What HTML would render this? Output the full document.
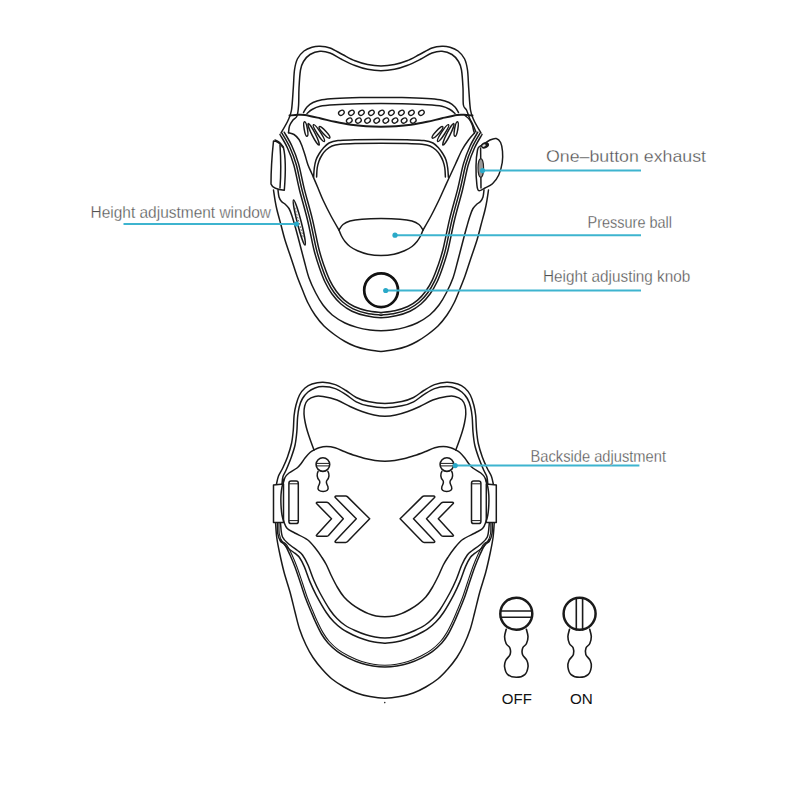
<!DOCTYPE html>
<html><head><meta charset="utf-8">
<style>
html,body{margin:0;padding:0;background:#fff;width:800px;height:800px;overflow:hidden}
svg{position:absolute;left:0;top:0}
.l{fill:none;stroke:#1a1a1a;stroke-width:1.5;stroke-linecap:round;stroke-linejoin:round}
.t{font-family:"Liberation Sans",sans-serif;fill:#505050;stroke:#fff;stroke-width:0.3}
.c{stroke:#3db4cf;stroke-width:2;fill:none}
.d{fill:#2aa9c8}
</style></head><body>
<svg width="800" height="800" viewBox="0 0 800 800">
<g class="l">
<path d="M281.00 133.00 C282.17 130.92 286.25 124.33 288.00 120.50 C289.75 116.67 290.62 115.42 291.50 110.00 C292.38 104.58 292.80 94.67 293.30 88.00 C293.80 81.33 293.80 74.88 294.50 70.00 C295.20 65.12 295.92 61.92 297.50 58.75 C299.08 55.58 301.58 52.92 304.00 51.00 C306.42 49.08 309.33 48.00 312.00 47.20 C314.67 46.40 317.00 46.07 320.00 46.20 C323.00 46.33 326.25 46.62 330.00 48.00 C333.75 49.38 338.33 52.37 342.50 54.50 C346.67 56.63 350.83 59.13 355.00 60.80 C359.17 62.47 363.17 63.65 367.50 64.50 C371.83 65.35 376.50 65.90 381.00 65.90 C385.50 65.90 390.17 65.35 394.50 64.50 C398.83 63.65 402.83 62.47 407.00 60.80 C411.17 59.13 415.33 56.63 419.50 54.50 C423.67 52.37 428.25 49.38 432.00 48.00 C435.75 46.62 439.00 46.33 442.00 46.20 C445.00 46.07 447.33 46.40 450.00 47.20 C452.67 48.00 455.58 49.08 458.00 51.00 C460.42 52.92 462.92 55.58 464.50 58.75 C466.08 61.92 466.80 65.12 467.50 70.00 C468.20 74.88 468.20 81.33 468.70 88.00 C469.20 94.67 469.62 104.58 470.50 110.00 C471.38 115.42 472.25 116.67 474.00 120.50 C475.75 124.33 479.83 130.92 481.00 133.00"/>
<path d="M288.50 132.80 C288.67 131.67 288.75 128.13 289.50 126.00 C290.25 123.87 291.75 121.67 293.00 120.00 C294.25 118.33 296.07 118.50 297.00 116.00 C297.93 113.50 298.27 109.67 298.60 105.00 C298.93 100.33 298.68 93.83 299.00 88.00 C299.32 82.17 299.75 74.42 300.50 70.00 C301.25 65.58 301.92 64.08 303.50 61.50 C305.08 58.92 307.25 56.22 310.00 54.50 C312.75 52.78 316.67 51.45 320.00 51.20 C323.33 50.95 326.33 51.62 330.00 53.00 C333.67 54.38 337.83 57.42 342.00 59.50 C346.17 61.58 350.75 63.87 355.00 65.50 C359.25 67.13 363.17 68.43 367.50 69.30 C371.83 70.17 376.50 70.70 381.00 70.70 C385.50 70.70 390.17 70.17 394.50 69.30 C398.83 68.43 402.75 67.13 407.00 65.50 C411.25 63.87 415.83 61.58 420.00 59.50 C424.17 57.42 428.33 54.38 432.00 53.00 C435.67 51.62 438.67 50.95 442.00 51.20 C445.33 51.45 449.25 52.78 452.00 54.50 C454.75 56.22 456.92 58.92 458.50 61.50 C460.08 64.08 460.75 65.58 461.50 70.00 C462.25 74.42 462.68 82.17 463.00 88.00 C463.32 93.83 462.82 101.33 463.40 105.00 C463.98 108.67 465.48 107.83 466.50 110.00 C467.52 112.17 468.42 115.50 469.50 118.00 C470.58 120.50 471.92 122.67 473.00 125.00 C474.08 127.33 475.50 130.83 476.00 132.00"/>
<path d="M303.50 112.50 C304.08 111.58 305.42 108.67 307.00 107.00 C308.58 105.33 310.50 103.70 313.00 102.50 C315.50 101.30 318.33 100.47 322.00 99.80 C325.67 99.13 328.67 98.87 335.00 98.50 C341.33 98.13 352.33 97.78 360.00 97.60 C367.67 97.42 374.00 97.40 381.00 97.40 C388.00 97.40 394.33 97.42 402.00 97.60 C409.67 97.78 420.67 98.13 427.00 98.50 C433.33 98.87 436.33 99.13 440.00 99.80 C443.67 100.47 446.50 101.30 449.00 102.50 C451.50 103.70 453.42 105.33 455.00 107.00 C456.58 108.67 457.92 111.58 458.50 112.50"/>
<path d="M307.00 113.50 C307.83 112.83 309.83 110.70 312.00 109.50 C314.17 108.30 316.17 107.08 320.00 106.30 C323.83 105.52 328.33 105.22 335.00 104.80 C341.67 104.38 352.33 104.02 360.00 103.80 C367.67 103.58 374.00 103.50 381.00 103.50 C388.00 103.50 394.33 103.58 402.00 103.80 C409.67 104.02 420.33 104.38 427.00 104.80 C433.67 105.22 438.17 105.52 442.00 106.30 C445.83 107.08 447.83 108.30 450.00 109.50 C452.17 110.70 454.17 112.83 455.00 113.50"/>
<path d="M289.50 115.50 C290.92 115.38 295.42 114.88 298.00 114.80 C300.58 114.72 301.33 114.43 305.00 115.00 C308.67 115.57 315.00 117.07 320.00 118.20 C325.00 119.33 329.83 120.70 335.00 121.80 C340.17 122.90 345.83 124.05 351.00 124.80 C356.17 125.55 361.00 125.98 366.00 126.30 C371.00 126.62 376.00 126.70 381.00 126.70 C386.00 126.70 391.00 126.62 396.00 126.30 C401.00 125.98 405.83 125.55 411.00 124.80 C416.17 124.05 421.83 122.90 427.00 121.80 C432.17 120.70 437.00 119.33 442.00 118.20 C447.00 117.07 453.33 115.57 457.00 115.00 C460.67 114.43 461.42 114.72 464.00 114.80 C466.58 114.88 471.08 115.38 472.50 115.50" style="stroke-width:1.9"/>
<path d="M313.60 177.30 C313.72 175.75 313.90 170.88 314.30 168.00 C314.70 165.12 315.22 162.33 316.00 160.00 C316.78 157.67 317.83 155.92 319.00 154.00 C320.17 152.08 321.33 150.33 323.00 148.50 C324.67 146.67 326.50 144.33 329.00 143.00 C331.50 141.67 333.67 141.03 338.00 140.50 C342.33 139.97 347.83 139.97 355.00 139.80 C362.17 139.63 372.33 139.50 381.00 139.50 C389.67 139.50 399.83 139.63 407.00 139.80 C414.17 139.97 419.67 139.97 424.00 140.50 C428.33 141.03 430.50 141.67 433.00 143.00 C435.50 144.33 437.33 146.67 439.00 148.50 C440.67 150.33 441.83 152.08 443.00 154.00 C444.17 155.92 445.22 157.67 446.00 160.00 C446.78 162.33 447.30 165.12 447.70 168.00 C448.10 170.88 448.28 175.75 448.40 177.30"/>
<path d="M316.60 177.00 C316.70 175.50 316.80 170.67 317.20 168.00 C317.60 165.33 318.20 163.17 319.00 161.00 C319.80 158.83 320.83 156.83 322.00 155.00 C323.17 153.17 324.33 151.50 326.00 150.00 C327.67 148.50 329.67 146.95 332.00 146.00 C334.33 145.05 336.17 144.72 340.00 144.30 C343.83 143.88 348.17 143.68 355.00 143.50 C361.83 143.32 372.33 143.20 381.00 143.20 C389.67 143.20 400.17 143.32 407.00 143.50 C413.83 143.68 418.17 143.88 422.00 144.30 C425.83 144.72 427.67 145.05 430.00 146.00 C432.33 146.95 434.33 148.50 436.00 150.00 C437.67 151.50 438.83 153.17 440.00 155.00 C441.17 156.83 442.20 158.83 443.00 161.00 C443.80 163.17 444.40 165.33 444.80 168.00 C445.20 170.67 445.30 175.50 445.40 177.00"/>
<path d="M288.50 132.80 C289.42 133.08 292.25 133.38 294.00 134.50 C295.75 135.62 297.67 137.58 299.00 139.50 C300.33 141.42 301.00 143.42 302.00 146.00 C303.00 148.58 304.00 151.83 305.00 155.00 C306.00 158.17 306.83 161.83 308.00 165.00 C309.17 168.17 310.33 170.17 312.00 174.00 C313.67 177.83 316.17 183.67 318.00 188.00 C319.83 192.33 320.83 195.33 323.00 200.00 C325.17 204.67 328.33 211.00 331.00 216.00 C333.67 221.00 337.67 227.67 339.00 230.00"/>
<path d="M474.50 133.00 C473.50 134.17 470.58 137.17 468.50 140.00 C466.42 142.83 464.17 146.00 462.00 150.00 C459.83 154.00 457.67 159.33 455.50 164.00 C453.33 168.67 450.92 173.83 449.00 178.00 C447.08 182.17 445.67 185.33 444.00 189.00 C442.33 192.67 441.17 195.50 439.00 200.00 C436.83 204.50 433.67 211.00 431.00 216.00 C428.33 221.00 424.33 227.67 423.00 230.00"/>
<path d="M465.00 115.50 C465.75 116.17 468.28 117.92 469.50 119.50 C470.72 121.08 471.63 123.25 472.30 125.00 C472.97 126.75 473.13 128.67 473.50 130.00 C473.87 131.33 474.33 132.50 474.50 133.00"/>
<path d="M339.00 230.00 C339.67 229.08 341.17 226.00 343.00 224.50 C344.83 223.00 346.83 221.88 350.00 221.00 C353.17 220.12 356.83 219.60 362.00 219.20 C367.17 218.80 374.67 218.60 381.00 218.60 C387.33 218.60 394.83 218.80 400.00 219.20 C405.17 219.60 408.83 220.12 412.00 221.00 C415.17 221.88 417.17 223.00 419.00 224.50 C420.83 226.00 422.33 229.08 423.00 230.00"/>
<path d="M339.00 230.00 C339.42 231.00 340.50 234.08 341.50 236.00 C342.50 237.92 343.58 239.75 345.00 241.50 C346.42 243.25 347.92 244.95 350.00 246.50 C352.08 248.05 354.50 249.52 357.50 250.80 C360.50 252.08 364.08 253.43 368.00 254.20 C371.92 254.97 376.67 255.40 381.00 255.40 C385.33 255.40 390.08 254.97 394.00 254.20 C397.92 253.43 401.50 252.08 404.50 250.80 C407.50 249.52 409.92 248.05 412.00 246.50 C414.08 244.95 415.58 243.25 417.00 241.50 C418.42 239.75 419.50 237.92 420.50 236.00 C421.50 234.08 422.58 231.00 423.00 230.00"/>
<path d="M280.00 134.50 C281.25 136.75 285.20 142.92 287.50 148.00 C289.80 153.08 291.80 158.00 293.80 165.00 C295.80 172.00 297.22 180.83 299.50 190.00 C301.78 199.17 305.08 210.00 307.50 220.00 C309.92 230.00 312.00 242.00 314.00 250.00 C316.00 258.00 317.67 262.67 319.50 268.00 C321.33 273.33 322.92 277.67 325.00 282.00 C327.08 286.33 329.33 290.33 332.00 294.00 C334.67 297.67 337.67 301.13 341.00 304.00 C344.33 306.87 347.83 309.23 352.00 311.20 C356.17 313.17 361.17 314.70 366.00 315.80 C370.83 316.90 376.00 317.80 381.00 317.80 C386.00 317.80 391.17 316.90 396.00 315.80 C400.83 314.70 405.83 313.17 410.00 311.20 C414.17 309.23 417.67 306.87 421.00 304.00 C424.33 301.13 427.33 297.67 430.00 294.00 C432.67 290.33 434.92 286.33 437.00 282.00 C439.08 277.67 440.67 273.33 442.50 268.00 C444.33 262.67 446.00 258.00 448.00 250.00 C450.00 242.00 452.08 230.00 454.50 220.00 C456.92 210.00 460.22 199.17 462.50 190.00 C464.78 180.83 466.20 172.00 468.20 165.00 C470.20 158.00 472.20 153.08 474.50 148.00 C476.80 142.92 480.75 136.75 482.00 134.50"/>
<path d="M282.10 133.33 C283.37 135.61 287.36 141.84 289.70 147.00 C292.05 152.17 294.12 157.26 296.15 164.33 C298.18 171.40 299.59 180.22 301.89 189.41 C304.18 198.59 307.49 209.42 309.91 219.42 C312.33 229.42 314.43 241.43 316.43 249.39 C318.42 257.35 320.07 261.93 321.88 267.18 C323.69 272.43 325.26 276.68 327.29 280.90 C329.32 285.12 331.50 288.97 334.07 292.49 C336.64 296.02 339.51 299.32 342.68 302.04 C345.86 304.77 349.13 306.98 353.11 308.85 C357.09 310.72 361.87 312.19 366.58 313.25 C371.29 314.30 379.00 314.86 381.35 315.18 C383.69 315.51 378.31 315.51 380.65 315.18 C383.00 314.86 390.71 314.30 395.42 313.25 C400.13 312.19 404.91 310.72 408.89 308.85 C412.87 306.98 416.14 304.77 419.32 302.04 C422.49 299.32 425.36 296.02 427.93 292.49 C430.50 288.97 432.68 285.12 434.71 280.90 C436.74 276.68 438.31 272.43 440.12 267.18 C441.93 261.93 443.58 257.35 445.57 249.39 C447.57 241.43 449.67 229.42 452.09 219.42 C454.51 209.42 457.82 198.59 460.11 189.41 C462.41 180.22 463.82 171.40 465.85 164.33 C467.88 157.26 469.95 152.17 472.30 147.00 C474.64 141.84 478.63 135.61 479.90 133.33"/>
<path d="M284.20 132.17 C285.48 134.47 289.53 140.76 291.91 146.00 C294.29 151.25 296.43 156.53 298.49 163.66 C300.55 170.79 301.97 179.61 304.27 188.81 C306.58 198.01 309.89 208.84 312.32 218.83 C314.75 228.83 316.86 240.87 318.85 248.79 C320.84 256.71 322.48 261.19 324.27 266.36 C326.05 271.53 327.60 275.69 329.58 279.80 C331.56 283.90 333.68 287.61 336.14 290.99 C338.61 294.37 341.35 297.50 344.36 300.09 C347.38 302.67 350.42 304.73 354.22 306.50 C358.02 308.26 362.58 309.68 367.16 310.69 C371.74 311.70 379.51 312.25 381.70 312.57 C383.89 312.88 378.11 312.88 380.30 312.57 C382.49 312.25 390.26 311.70 394.84 310.69 C399.42 309.68 403.98 308.26 407.78 306.50 C411.58 304.73 414.62 302.67 417.64 300.09 C420.65 297.50 423.39 294.37 425.86 290.99 C428.32 287.61 430.44 283.90 432.42 279.80 C434.40 275.69 435.95 271.53 437.73 266.36 C439.52 261.19 441.16 256.71 443.15 248.79 C445.14 240.87 447.25 228.83 449.68 218.83 C452.11 208.84 455.42 198.01 457.73 188.81 C460.03 179.61 461.45 170.79 463.51 163.66 C465.57 156.53 467.71 151.25 470.09 146.00 C472.47 140.76 476.52 134.47 477.80 132.17"/>
<path d="M278.00 190.00 C278.17 191.17 278.42 195.08 279.00 197.00 C279.58 198.92 280.50 200.33 281.50 201.50 C282.50 202.67 283.75 202.83 285.00 204.00 C286.25 205.17 287.83 206.50 289.00 208.50 C290.17 210.50 291.00 213.08 292.00 216.00 C293.00 218.92 294.00 222.50 295.00 226.00 C296.00 229.50 296.50 231.33 298.00 237.00 C299.50 242.67 302.17 253.17 304.00 260.00 C305.83 266.83 307.04 272.50 309.00 278.00 C310.96 283.50 313.42 288.50 315.75 293.00 C318.08 297.50 320.25 301.33 323.00 305.00 C325.75 308.67 328.58 312.00 332.25 315.00 C335.92 318.00 340.88 320.93 345.00 323.00 C349.12 325.07 352.83 326.23 357.00 327.40 C361.17 328.57 366.00 329.43 370.00 330.00 C374.00 330.57 377.33 330.80 381.00 330.80 C384.67 330.80 388.00 330.57 392.00 330.00 C396.00 329.43 400.83 328.57 405.00 327.40 C409.17 326.23 412.88 325.07 417.00 323.00 C421.12 320.93 426.08 318.00 429.75 315.00 C433.42 312.00 436.25 308.67 439.00 305.00 C441.75 301.33 443.92 297.50 446.25 293.00 C448.58 288.50 451.04 283.50 453.00 278.00 C454.96 272.50 456.17 266.83 458.00 260.00 C459.83 253.17 462.50 242.67 464.00 237.00 C465.50 231.33 466.00 229.50 467.00 226.00 C468.00 222.50 469.00 218.92 470.00 216.00 C471.00 213.08 471.83 210.50 473.00 208.50 C474.17 206.50 475.75 205.17 477.00 204.00 C478.25 202.83 479.50 202.67 480.50 201.50 C481.50 200.33 482.42 198.92 483.00 197.00 C483.58 195.08 483.83 191.17 484.00 190.00"/>
<path d="M273.50 190.00 C273.75 191.67 274.42 196.67 275.00 200.00 C275.58 203.33 276.00 205.83 277.00 210.00 C278.00 214.17 279.67 220.00 281.00 225.00 C282.33 230.00 283.22 234.17 285.00 240.00 C286.78 245.83 289.70 254.00 291.70 260.00 C293.70 266.00 295.20 271.00 297.00 276.00 C298.80 281.00 300.67 285.50 302.50 290.00 C304.33 294.50 305.92 298.83 308.00 303.00 C310.08 307.17 312.33 311.17 315.00 315.00 C317.67 318.83 320.67 322.67 324.00 326.00 C327.33 329.33 331.50 332.42 335.00 335.00 C338.50 337.58 341.67 339.62 345.00 341.50 C348.33 343.38 351.33 344.90 355.00 346.25 C358.67 347.60 362.67 348.74 367.00 349.60 C371.33 350.46 376.33 351.40 381.00 351.40 C385.67 351.40 390.67 350.46 395.00 349.60 C399.33 348.74 403.33 347.60 407.00 346.25 C410.67 344.90 413.67 343.38 417.00 341.50 C420.33 339.62 423.50 337.58 427.00 335.00 C430.50 332.42 434.67 329.33 438.00 326.00 C441.33 322.67 444.33 318.83 447.00 315.00 C449.67 311.17 451.92 307.17 454.00 303.00 C456.08 298.83 457.67 294.50 459.50 290.00 C461.33 285.50 463.20 281.00 465.00 276.00 C466.80 271.00 468.30 266.00 470.30 260.00 C472.30 254.00 475.22 245.83 477.00 240.00 C478.78 234.17 479.67 230.00 481.00 225.00 C482.33 220.00 484.00 214.17 485.00 210.00 C486.00 205.83 486.42 203.33 487.00 200.00 C487.58 196.67 488.25 191.67 488.50 190.00"/>
<ellipse cx="305.80" cy="129.00" rx="1.60" ry="7.40" transform="rotate(-10.0 305.80 129.00)"/>
<ellipse cx="456.20" cy="129.00" rx="1.60" ry="7.40" transform="rotate(10.0 456.20 129.00)"/>
<ellipse cx="313.60" cy="134.30" rx="1.70" ry="12.00" transform="rotate(-27.0 313.60 134.30)"/>
<ellipse cx="448.40" cy="134.30" rx="1.70" ry="12.00" transform="rotate(27.0 448.40 134.30)"/>
<ellipse cx="318.90" cy="133.10" rx="1.70" ry="10.00" transform="rotate(-33.0 318.90 133.10)"/>
<ellipse cx="443.10" cy="133.10" rx="1.70" ry="10.00" transform="rotate(33.0 443.10 133.10)"/>
<ellipse cx="324.50" cy="132.40" rx="1.70" ry="7.70" transform="rotate(-43.0 324.50 132.40)"/>
<ellipse cx="437.50" cy="132.40" rx="1.70" ry="7.70" transform="rotate(43.0 437.50 132.40)"/>
<ellipse cx="341.40" cy="112.8" rx="3" ry="2.3" transform="rotate(-32 341.40 112.8)" style="stroke-width:1.3"/>
<ellipse cx="351.40" cy="112.8" rx="3" ry="2.3" transform="rotate(-32 351.40 112.8)" style="stroke-width:1.3"/>
<ellipse cx="361.40" cy="112.8" rx="3" ry="2.3" transform="rotate(-32 361.40 112.8)" style="stroke-width:1.3"/>
<ellipse cx="371.40" cy="112.8" rx="3" ry="2.3" transform="rotate(-32 371.40 112.8)" style="stroke-width:1.3"/>
<ellipse cx="381.40" cy="112.8" rx="3" ry="2.3" transform="rotate(-32 381.40 112.8)" style="stroke-width:1.3"/>
<ellipse cx="391.40" cy="112.8" rx="3" ry="2.3" transform="rotate(-32 391.40 112.8)" style="stroke-width:1.3"/>
<ellipse cx="401.40" cy="112.8" rx="3" ry="2.3" transform="rotate(-32 401.40 112.8)" style="stroke-width:1.3"/>
<ellipse cx="411.40" cy="112.8" rx="3" ry="2.3" transform="rotate(-32 411.40 112.8)" style="stroke-width:1.3"/>
<ellipse cx="421.40" cy="112.8" rx="3" ry="2.3" transform="rotate(-32 421.40 112.8)" style="stroke-width:1.3"/>
<ellipse cx="349.30" cy="120.6" rx="3" ry="2.3" transform="rotate(-32 349.30 120.6)" style="stroke-width:1.3"/>
<ellipse cx="358.44" cy="120.6" rx="3" ry="2.3" transform="rotate(-32 358.44 120.6)" style="stroke-width:1.3"/>
<ellipse cx="367.58" cy="120.6" rx="3" ry="2.3" transform="rotate(-32 367.58 120.6)" style="stroke-width:1.3"/>
<ellipse cx="376.72" cy="120.6" rx="3" ry="2.3" transform="rotate(-32 376.72 120.6)" style="stroke-width:1.3"/>
<ellipse cx="385.86" cy="120.6" rx="3" ry="2.3" transform="rotate(-32 385.86 120.6)" style="stroke-width:1.3"/>
<ellipse cx="395.00" cy="120.6" rx="3" ry="2.3" transform="rotate(-32 395.00 120.6)" style="stroke-width:1.3"/>
<ellipse cx="404.14" cy="120.6" rx="3" ry="2.3" transform="rotate(-32 404.14 120.6)" style="stroke-width:1.3"/>
<ellipse cx="413.28" cy="120.6" rx="3" ry="2.3" transform="rotate(-32 413.28 120.6)" style="stroke-width:1.3"/>
<path d="M273.5 141 C271.5 160 271 172 271 184 C272 187 275 189.5 284.3 190.3 C285.8 172 285.6 156 283.3 147 C280.5 143 276 141 273.5 141 Z"/>
<path d="M275 140 C278 141 281 143 282.5 147"/>
<path d="M280 145 C281 160 281 175 280 188"/>
<ellipse cx="299.3" cy="222.5" rx="2" ry="23.3" transform="rotate(-14.3 299.3 222.5)" style="stroke-width:1.5"/>
<path d="M295 208 L303.5 238" style="stroke-dasharray:1 2.2;stroke-width:0.9;stroke:#555"/>
<path d="M482.50 145.00 C484.17 143.96 487.71 141.08 490.00 140.00 C492.29 138.92 494.48 138.08 496.25 138.50 C498.02 138.92 499.56 140.38 500.60 142.50 C501.64 144.62 502.23 147.92 502.50 151.25 C502.77 154.58 502.88 158.54 502.25 162.50 C501.62 166.46 500.38 171.46 498.75 175.00 C497.12 178.54 494.79 181.58 492.50 183.75 C490.21 185.92 487.29 186.86 485.00 188.00 C482.71 189.14 480.10 191.10 478.75 190.60 C477.40 190.10 477.36 189.06 476.90 185.00 C476.44 180.94 475.90 172.08 476.00 166.25 C476.10 160.42 476.83 153.33 477.50 150.00 C478.17 146.67 479.17 147.08 480.00 146.25 C480.83 145.42 480.83 146.04 482.50 145.00 Z"/>
<ellipse cx="485" cy="145.3" rx="4.2" ry="3" transform="rotate(-25 485 145.3)" fill="#1a1a1a" stroke="none"/>
<ellipse cx="484" cy="145.6" rx="1.8" ry="1.1" transform="rotate(-25 484 145.6)" fill="#e0e0e0" stroke="none"/>
<path d="M480.6 148 L481 188"/>
<ellipse cx="480.8" cy="168" rx="2.8" ry="9.3" fill="#999" stroke="#222" style="stroke-width:1.1"/>
<path d="M276.50 484.00 C276.83 482.67 277.46 478.67 278.50 476.00 C279.54 473.33 281.25 471.17 282.75 468.00 C284.25 464.83 286.04 461.08 287.50 457.00 C288.96 452.92 290.53 448.00 291.50 443.50 C292.47 439.00 292.87 434.67 293.30 430.00 C293.73 425.33 293.65 419.67 294.10 415.50 C294.55 411.33 295.10 408.42 296.00 405.00 C296.90 401.58 298.00 397.83 299.50 395.00 C301.00 392.17 302.92 389.83 305.00 388.00 C307.08 386.17 309.00 384.95 312.00 384.00 C315.00 383.05 319.12 382.20 323.00 382.30 C326.88 382.40 331.42 383.23 335.25 384.60 C339.08 385.97 342.50 388.35 346.00 390.50 C349.50 392.65 352.58 395.67 356.25 397.50 C359.92 399.33 363.23 400.50 368.00 401.50 C372.77 402.50 379.27 403.50 384.90 403.50 C390.53 403.50 397.02 402.50 401.80 401.50 C406.57 400.50 409.88 399.33 413.55 397.50 C417.22 395.67 420.30 392.65 423.80 390.50 C427.30 388.35 430.72 385.97 434.55 384.60 C438.38 383.23 442.92 382.40 446.80 382.30 C450.67 382.20 454.80 383.05 457.80 384.00 C460.80 384.95 462.72 386.17 464.80 388.00 C466.88 389.83 468.80 392.17 470.30 395.00 C471.80 397.83 472.90 401.58 473.80 405.00 C474.70 408.42 475.25 411.33 475.70 415.50 C476.15 419.67 476.07 425.33 476.50 430.00 C476.93 434.67 477.33 439.00 478.30 443.50 C479.27 448.00 480.84 452.92 482.30 457.00 C483.76 461.08 485.55 464.83 487.05 468.00 C488.55 471.17 490.26 473.33 491.30 476.00 C492.34 478.67 492.97 482.67 493.30 484.00"/>
<path d="M282.00 484.00 C282.17 482.75 282.29 478.88 283.00 476.50 C283.71 474.12 284.92 472.83 286.25 469.75 C287.58 466.67 289.54 462.08 291.00 458.00 C292.46 453.92 294.03 449.58 295.00 445.25 C295.97 440.92 296.37 436.67 296.80 432.00 C297.23 427.33 297.20 421.42 297.60 417.25 C298.00 413.08 298.38 410.12 299.20 407.00 C300.02 403.88 301.03 401.00 302.50 398.50 C303.97 396.00 305.92 393.75 308.00 392.00 C310.08 390.25 312.50 388.90 315.00 388.00 C317.50 387.10 319.62 386.50 323.00 386.60 C326.38 386.70 331.42 387.27 335.25 388.60 C339.08 389.93 342.50 392.40 346.00 394.60 C349.50 396.80 352.58 399.93 356.25 401.80 C359.92 403.67 363.23 404.80 368.00 405.80 C372.77 406.80 379.27 407.80 384.90 407.80 C390.53 407.80 397.02 406.80 401.80 405.80 C406.57 404.80 409.88 403.67 413.55 401.80 C417.22 399.93 420.30 396.80 423.80 394.60 C427.30 392.40 430.72 389.93 434.55 388.60 C438.38 387.27 443.42 386.70 446.80 386.60 C450.17 386.50 452.30 387.10 454.80 388.00 C457.30 388.90 459.72 390.25 461.80 392.00 C463.88 393.75 465.83 396.00 467.30 398.50 C468.77 401.00 469.78 403.88 470.60 407.00 C471.42 410.12 471.80 413.08 472.20 417.25 C472.60 421.42 472.57 427.33 473.00 432.00 C473.43 436.67 473.83 440.92 474.80 445.25 C475.77 449.58 477.34 453.92 478.80 458.00 C480.26 462.08 482.22 466.67 483.55 469.75 C484.88 472.83 486.09 474.12 486.80 476.50 C487.51 478.88 487.63 482.75 487.80 484.00"/>
<path d="M314.00 450.00 C313.42 448.42 311.58 443.58 310.50 440.50 C309.42 437.42 308.37 434.42 307.50 431.50 C306.63 428.58 305.88 425.92 305.30 423.00 C304.72 420.08 304.10 416.83 304.00 414.00 C303.90 411.17 304.07 408.33 304.70 406.00 C305.33 403.67 306.08 401.60 307.80 400.00 C309.52 398.40 312.47 396.98 315.00 396.40 C317.53 395.82 319.33 395.90 323.00 396.50 C326.67 397.10 332.50 398.33 337.00 400.00 C341.50 401.67 345.83 404.58 350.00 406.50 C354.17 408.42 358.00 410.08 362.00 411.50 C366.00 412.92 370.18 414.22 374.00 415.00 C377.82 415.78 381.27 416.20 384.90 416.20 C388.53 416.20 391.98 415.78 395.80 415.00 C399.62 414.22 403.80 412.92 407.80 411.50 C411.80 410.08 415.63 408.42 419.80 406.50 C423.97 404.58 428.30 401.67 432.80 400.00 C437.30 398.33 443.13 397.10 446.80 396.50 C450.47 395.90 452.27 395.82 454.80 396.40 C457.33 396.98 460.28 398.40 462.00 400.00 C463.72 401.60 464.47 403.67 465.10 406.00 C465.73 408.33 465.90 411.17 465.80 414.00 C465.70 416.83 465.08 420.08 464.50 423.00 C463.92 425.92 463.17 428.58 462.30 431.50 C461.43 434.42 460.38 437.42 459.30 440.50 C458.22 443.58 456.38 448.42 455.80 450.00"/>
<path d="M283.00 484.00 C283.33 482.92 284.00 479.33 285.00 477.50 C286.00 475.67 287.00 474.58 289.00 473.00 C291.00 471.42 294.92 469.67 297.00 468.00 C299.08 466.33 300.17 464.67 301.50 463.00 C302.83 461.33 303.58 459.75 305.00 458.00 C306.42 456.25 308.50 453.83 310.00 452.50 C311.50 451.17 312.50 450.78 314.00 450.00 C315.50 449.22 316.92 448.37 319.00 447.80 C321.08 447.23 323.83 446.60 326.50 446.60 C329.17 446.60 331.92 446.93 335.00 447.80 C338.08 448.67 341.67 450.52 345.00 451.80 C348.33 453.08 351.67 454.37 355.00 455.50 C358.33 456.63 361.67 457.77 365.00 458.60 C368.33 459.43 371.68 460.07 375.00 460.50 C378.32 460.93 381.60 461.20 384.90 461.20 C388.20 461.20 391.48 460.93 394.80 460.50 C398.12 460.07 401.47 459.43 404.80 458.60 C408.13 457.77 411.47 456.63 414.80 455.50 C418.13 454.37 421.47 453.08 424.80 451.80 C428.13 450.52 431.72 448.67 434.80 447.80 C437.88 446.93 440.63 446.60 443.30 446.60 C445.97 446.60 448.72 447.23 450.80 447.80 C452.88 448.37 454.30 449.22 455.80 450.00 C457.30 450.78 458.30 451.17 459.80 452.50 C461.30 453.83 463.38 456.25 464.80 458.00 C466.22 459.75 466.97 461.33 468.30 463.00 C469.63 464.67 470.72 466.33 472.80 468.00 C474.88 469.67 478.80 471.42 480.80 473.00 C482.80 474.58 483.80 475.67 484.80 477.50 C485.80 479.33 486.47 482.92 486.80 484.00"/>
<path d="M284.00 479.00 C283.67 480.33 282.50 484.33 282.00 487.00 C281.50 489.67 281.17 492.00 281.00 495.00 C280.83 498.00 280.83 501.67 281.00 505.00 C281.17 508.33 281.50 512.17 282.00 515.00 C282.50 517.83 283.12 519.75 284.00 522.00 C284.88 524.25 285.46 526.67 287.25 528.50 C289.04 530.33 291.38 531.12 294.75 533.00 C298.12 534.88 303.96 537.08 307.50 539.75 C311.04 542.42 313.58 546.04 316.00 549.00 C318.42 551.96 320.25 554.83 322.00 557.50 C323.75 560.17 325.00 562.08 326.50 565.00 C328.00 567.92 329.17 571.25 331.00 575.00 C332.83 578.75 335.33 583.83 337.50 587.50 C339.67 591.17 341.62 594.23 344.00 597.00 C346.38 599.77 349.08 602.02 351.75 604.10 C354.42 606.18 357.23 607.92 360.00 609.50 C362.77 611.08 365.73 612.53 368.40 613.60 C371.07 614.67 373.25 615.38 376.00 615.90 C378.75 616.42 381.93 616.70 384.90 616.70 C387.87 616.70 391.05 616.42 393.80 615.90 C396.55 615.38 398.73 614.67 401.40 613.60 C404.07 612.53 407.02 611.08 409.80 609.50 C412.57 607.92 415.38 606.18 418.05 604.10 C420.72 602.02 423.42 599.77 425.80 597.00 C428.17 594.23 430.13 591.17 432.30 587.50 C434.47 583.83 436.97 578.75 438.80 575.00 C440.63 571.25 441.80 567.92 443.30 565.00 C444.80 562.08 446.05 560.17 447.80 557.50 C449.55 554.83 451.38 551.96 453.80 549.00 C456.22 546.04 458.76 542.42 462.30 539.75 C465.84 537.08 471.67 534.88 475.05 533.00 C478.42 531.12 480.76 530.33 482.55 528.50 C484.34 526.67 484.92 524.25 485.80 522.00 C486.67 519.75 487.30 517.83 487.80 515.00 C488.30 512.17 488.63 508.33 488.80 505.00 C488.97 501.67 488.97 498.00 488.80 495.00 C488.63 492.00 488.30 489.67 487.80 487.00 C487.30 484.33 486.13 480.33 485.80 479.00"/>
<path d="M275.60 523.25 C275.79 525.62 276.10 532.62 276.75 537.50 C277.40 542.38 278.29 546.75 279.50 552.50 C280.71 558.25 282.25 565.42 284.00 572.00 C285.75 578.58 288.17 585.33 290.00 592.00 C291.83 598.67 293.42 605.83 295.00 612.00 C296.58 618.17 297.67 623.50 299.50 629.00 C301.33 634.50 303.75 640.25 306.00 645.00 C308.25 649.75 310.33 653.50 313.00 657.50 C315.67 661.50 318.83 665.42 322.00 669.00 C325.17 672.58 328.33 676.00 332.00 679.00 C335.67 682.00 339.92 684.67 344.00 687.00 C348.08 689.33 352.17 691.40 356.50 693.00 C360.83 694.60 365.27 695.73 370.00 696.60 C374.73 697.47 379.93 698.20 384.90 698.20 C389.87 698.20 395.07 697.47 399.80 696.60 C404.53 695.73 408.97 694.60 413.30 693.00 C417.63 691.40 421.72 689.33 425.80 687.00 C429.88 684.67 434.13 682.00 437.80 679.00 C441.47 676.00 444.63 672.58 447.80 669.00 C450.97 665.42 454.13 661.50 456.80 657.50 C459.47 653.50 461.55 649.75 463.80 645.00 C466.05 640.25 468.47 634.50 470.30 629.00 C472.13 623.50 473.22 618.17 474.80 612.00 C476.38 605.83 477.97 598.67 479.80 592.00 C481.63 585.33 484.05 578.58 485.80 572.00 C487.55 565.42 489.09 558.25 490.30 552.50 C491.51 546.75 492.40 542.38 493.05 537.50 C493.70 532.62 494.01 525.62 494.20 523.25"/>
<path d="M277.50 523.25 C277.55 525.00 277.30 530.75 277.80 533.75 C278.30 536.75 279.30 539.38 280.50 541.25 C281.70 543.12 283.42 542.71 285.00 545.00 C286.58 547.29 288.33 551.33 290.00 555.00 C291.67 558.67 293.25 562.33 295.00 567.00 C296.75 571.67 298.75 577.83 300.50 583.00 C302.25 588.17 303.78 593.33 305.50 598.00 C307.22 602.67 309.13 607.00 310.80 611.00 C312.47 615.00 313.72 618.17 315.50 622.00 C317.28 625.83 319.42 630.50 321.50 634.00 C323.58 637.50 325.33 640.07 328.00 643.00 C330.67 645.93 334.17 649.13 337.50 651.60 C340.83 654.07 344.04 655.85 348.00 657.80 C351.96 659.75 357.08 661.93 361.25 663.30 C365.42 664.67 369.06 665.38 373.00 666.00 C376.94 666.62 380.93 667.00 384.90 667.00 C388.87 667.00 392.86 666.62 396.80 666.00 C400.74 665.38 404.38 664.67 408.55 663.30 C412.72 661.93 417.84 659.75 421.80 657.80 C425.76 655.85 428.97 654.07 432.30 651.60 C435.63 649.13 439.13 645.93 441.80 643.00 C444.47 640.07 446.22 637.50 448.30 634.00 C450.38 630.50 452.52 625.83 454.30 622.00 C456.08 618.17 457.33 615.00 459.00 611.00 C460.67 607.00 462.58 602.67 464.30 598.00 C466.02 593.33 467.55 588.17 469.30 583.00 C471.05 577.83 473.05 571.67 474.80 567.00 C476.55 562.33 478.13 558.67 479.80 555.00 C481.47 551.33 483.22 547.29 484.80 545.00 C486.38 542.71 488.10 543.12 489.30 541.25 C490.50 539.38 491.50 536.75 492.00 533.75 C492.50 530.75 492.25 525.00 492.30 523.25"/>
<path d="M279.00 523.25 C279.05 525.00 278.80 530.79 279.30 533.75 C279.80 536.71 280.80 539.21 282.00 541.00 C283.20 542.79 284.88 542.28 286.50 544.50 C288.12 546.72 289.98 550.63 291.70 554.30 C293.42 557.97 295.03 561.80 296.80 566.50 C298.57 571.20 300.55 577.33 302.30 582.50 C304.05 587.67 305.60 592.87 307.30 597.50 C309.00 602.13 310.87 606.38 312.50 610.30 C314.13 614.22 315.35 617.28 317.10 621.00 C318.85 624.72 320.97 629.18 323.00 632.60 C325.03 636.02 326.72 638.62 329.30 641.50 C331.88 644.38 335.25 647.48 338.50 649.90 C341.75 652.32 344.92 654.07 348.80 656.00 C352.68 657.93 357.72 660.12 361.80 661.50 C365.88 662.88 369.45 663.68 373.30 664.30 C377.15 664.92 381.03 665.20 384.90 665.20 C388.77 665.20 392.65 664.92 396.50 664.30 C400.35 663.68 403.92 662.88 408.00 661.50 C412.08 660.12 417.12 657.93 421.00 656.00 C424.88 654.07 428.05 652.32 431.30 649.90 C434.55 647.48 437.92 644.38 440.50 641.50 C443.08 638.62 444.77 636.02 446.80 632.60 C448.83 629.18 450.95 624.72 452.70 621.00 C454.45 617.28 455.67 614.22 457.30 610.30 C458.93 606.38 460.80 602.13 462.50 597.50 C464.20 592.87 465.75 587.67 467.50 582.50 C469.25 577.33 471.23 571.20 473.00 566.50 C474.77 561.80 476.38 557.97 478.10 554.30 C479.82 550.63 481.68 546.72 483.30 544.50 C484.92 542.28 486.60 542.79 487.80 541.00 C489.00 539.21 490.00 536.71 490.50 533.75 C491.00 530.79 490.75 525.00 490.80 523.25" style="stroke-width:1.1"/>
<path d="M280.50 523.25 C280.83 525.54 280.92 533.38 282.50 537.00 C284.08 540.62 287.50 542.75 290.00 545.00 C292.50 547.25 295.42 548.83 297.50 550.50 C299.58 552.17 300.75 552.58 302.50 555.00 C304.25 557.42 306.12 560.83 308.00 565.00 C309.88 569.17 311.75 575.33 313.75 580.00 C315.75 584.67 317.29 588.00 320.00 593.00 C322.71 598.00 327.17 605.75 330.00 610.00 C332.83 614.25 334.50 615.96 337.00 618.50 C339.50 621.04 342.00 623.25 345.00 625.25 C348.00 627.25 351.50 628.91 355.00 630.50 C358.50 632.09 362.67 633.72 366.00 634.80 C369.33 635.88 371.85 636.48 375.00 637.00 C378.15 637.52 381.60 637.90 384.90 637.90 C388.20 637.90 391.65 637.52 394.80 637.00 C397.95 636.48 400.47 635.88 403.80 634.80 C407.13 633.72 411.30 632.09 414.80 630.50 C418.30 628.91 421.80 627.25 424.80 625.25 C427.80 623.25 430.30 621.04 432.80 618.50 C435.30 615.96 436.97 614.25 439.80 610.00 C442.63 605.75 447.09 598.00 449.80 593.00 C452.51 588.00 454.05 584.67 456.05 580.00 C458.05 575.33 459.92 569.17 461.80 565.00 C463.67 560.83 465.55 557.42 467.30 555.00 C469.05 552.58 470.22 552.17 472.30 550.50 C474.38 548.83 477.30 547.25 479.80 545.00 C482.30 542.75 485.72 540.62 487.30 537.00 C488.88 533.38 488.97 525.54 489.30 523.25"/>
<path d="M279.95 539.39 C281.22 540.78 285.03 545.36 287.57 547.70 C290.10 550.05 293.18 551.85 295.14 553.45 C297.10 555.05 297.80 555.09 299.33 557.30 C300.86 559.50 302.54 562.60 304.30 566.66 C306.06 570.72 307.92 576.92 309.90 581.65 C311.88 586.38 313.46 589.92 316.19 595.06 C318.92 600.20 323.36 608.03 326.28 612.48 C329.20 616.92 331.03 618.94 333.72 621.73 C336.40 624.52 339.16 627.00 342.37 629.20 C345.58 631.40 349.30 633.22 352.98 634.95 C356.66 636.68 360.92 638.39 364.45 639.58 C367.98 640.77 370.84 641.49 374.16 642.09 C377.49 642.69 382.55 643.00 384.42 643.18 C386.29 643.36 383.51 643.36 385.38 643.18 C387.25 643.00 392.31 642.69 395.64 642.09 C398.96 641.49 401.82 640.77 405.35 639.58 C408.88 638.39 413.14 636.68 416.82 634.95 C420.50 633.22 424.22 631.40 427.43 629.20 C430.64 627.00 433.40 624.52 436.08 621.73 C438.77 618.94 440.60 616.92 443.52 612.48 C446.44 608.03 450.88 600.20 453.61 595.06 C456.34 589.92 457.92 586.38 459.90 581.65 C461.88 576.92 463.74 570.72 465.50 566.66 C467.26 562.60 468.94 559.50 470.47 557.30 C472.00 555.09 472.70 555.05 474.66 553.45 C476.62 551.85 479.70 550.05 482.23 547.70 C484.77 545.36 488.58 540.78 489.85 539.39"/>
<g id="botparts"><path d="M273.5 485 L273.5 522.5 L283.5 522.5 L283.5 484 Z"/><rect x="288.9" y="481" width="9.4" height="42.6" rx="2.2" ry="2.2" style="stroke-width:1.5"/><path d="M289.5 483.8 L297.7 483.8 M289.5 520.6 L297.7 520.6" style="stroke-width:1"/><circle cx="322.9" cy="464.6" r="6.8" style="stroke-width:1.6"/><path d="M316.3 463.4 L329.5 463.4 M316.3 465.9 L329.5 465.9" style="stroke-width:1"/><path d="M318.1 471.3 C316.5 474 317 478 319 480 C321 482 319.5 484 318.3 486.5 C317 490 319.5 491.5 323.1 491.5 C326.7 491.5 329 490 327.9 486.5 C326.7 484 325.2 482 327.2 480 C329.2 478 329.7 474 327.9 471.3"/><path d="M317.5 502.2 L326.5 502.2 C327.5 502.2 328 502.5 328.5 503 L343.3 518.8 L328.5 535.5 C328 536 327.5 536.3 326.5 536.3 L317.5 536.3 C316.3 536.3 316 535.5 316.8 534.7 L331.5 518.8 L316.8 503.8 C316 503 316.3 502.2 317.5 502.2 Z" style="stroke-width:1.5"/><path d="M336.2 496.1 L345.6 496.1 C346.6 496.1 347.1 496.4 347.6 496.9 L369.7 518.8 L347.6 541.6 C347.1 542.1 346.6 542.4 345.6 542.4 L336.2 542.4 C335 542.4 334.7 541.6 335.5 540.8 L356.3 518.8 L335.5 497.7 C334.7 496.9 335 496.1 336.2 496.1 Z" style="stroke-width:1.5"/></g>
<use href="#botparts" transform="translate(769.80 0) scale(-1 1)"/>
<circle cx="384.75" cy="702.6" r="0.8" fill="#333" stroke="none"/>
<circle cx="516.3" cy="613.7" r="16" style="stroke-width:2.5"/>
<circle cx="579.6" cy="613.7" r="16" style="stroke-width:2.5"/>
<path d="M500.5 611 L532 611 M500.5 617.3 L532 617.3" style="stroke-width:1.6"/>
<path d="M576.3 599 L576.3 629.8 M582.6 599 L582.6 629.8" style="stroke-width:1.6"/>
<path d="M506.20 629.30 C505.93 630.50 504.62 634.13 504.60 636.50 C504.58 638.87 505.22 641.58 506.10 643.50 C506.98 645.42 509.23 646.17 509.90 648.00 C510.57 649.83 510.80 652.42 510.10 654.50 C509.40 656.58 506.62 658.42 505.70 660.50 C504.78 662.58 504.25 664.65 504.60 667.00 C504.95 669.35 505.85 672.88 507.80 674.60 C509.75 676.32 513.47 677.30 516.30 677.30 C519.13 677.30 522.85 676.32 524.80 674.60 C526.75 672.88 527.65 669.35 528.00 667.00 C528.35 664.65 527.82 662.58 526.90 660.50 C525.98 658.42 523.20 656.58 522.50 654.50 C521.80 652.42 522.03 649.83 522.70 648.00 C523.37 646.17 525.62 645.42 526.50 643.50 C527.38 641.58 528.02 638.87 528.00 636.50 C527.98 634.13 526.67 630.50 526.40 629.30" style="stroke-width:1.6"/>
<path d="M569.50 629.30 C569.23 630.50 567.92 634.13 567.90 636.50 C567.88 638.87 568.52 641.58 569.40 643.50 C570.28 645.42 572.53 646.17 573.20 648.00 C573.87 649.83 574.10 652.42 573.40 654.50 C572.70 656.58 569.92 658.42 569.00 660.50 C568.08 662.58 567.55 664.65 567.90 667.00 C568.25 669.35 569.15 672.88 571.10 674.60 C573.05 676.32 576.77 677.30 579.60 677.30 C582.43 677.30 586.15 676.32 588.10 674.60 C590.05 672.88 590.95 669.35 591.30 667.00 C591.65 664.65 591.12 662.58 590.20 660.50 C589.28 658.42 586.50 656.58 585.80 654.50 C585.10 652.42 585.33 649.83 586.00 648.00 C586.67 646.17 588.92 645.42 589.80 643.50 C590.68 641.58 591.32 638.87 591.30 636.50 C591.28 634.13 589.97 630.50 589.70 629.30" style="stroke-width:1.6"/>
</g>
<circle cx="381.1" cy="290.2" r="16.9" fill="none" stroke="#111" stroke-width="2.7"/>
<line class="c" x1="482.5" y1="170.6" x2="641" y2="170.6"/><circle class="d" cx="482.5" cy="170.6" r="2.6"/>
<line class="c" x1="395" y1="235.2" x2="641" y2="235.2"/><circle class="d" cx="395" cy="235.2" r="2.6"/>
<line class="c" x1="385.7" y1="290.5" x2="641" y2="290.5"/><circle class="d" cx="385.7" cy="290.5" r="2.6"/>
<line class="c" x1="123.5" y1="224" x2="296.5" y2="224"/><circle class="d" cx="296.5" cy="224" r="2.6"/>
<line class="c" x1="455.2" y1="465.6" x2="639.4" y2="465.6"/><circle class="d" cx="455.2" cy="465.6" r="2.6"/>
<text class="t" x="546" y="162.3" font-size="17" textLength="160" lengthAdjust="spacingAndGlyphs">One–button exhaust</text>
<text class="t" x="587.5" y="228" font-size="16.5" textLength="84.5" lengthAdjust="spacingAndGlyphs">Pressure ball</text>
<text class="t" x="543" y="282" font-size="16.5" textLength="147.3" lengthAdjust="spacingAndGlyphs">Height adjusting knob</text>
<text class="t" x="90.5" y="218.3" font-size="16.5" textLength="180.5" lengthAdjust="spacingAndGlyphs">Height adjustment window</text>
<text class="t" x="530.5" y="461.5" font-size="16.5" textLength="135.5" lengthAdjust="spacingAndGlyphs">Backside adjustment</text>
<text x="501.8" y="704.4" font-family="Liberation Sans, sans-serif" font-size="15.5" fill="#111" textLength="30" lengthAdjust="spacingAndGlyphs">OFF</text>
<text x="570" y="704.4" font-family="Liberation Sans, sans-serif" font-size="15.5" fill="#111" textLength="22.8" lengthAdjust="spacingAndGlyphs">ON</text>
</svg>
</body></html>
